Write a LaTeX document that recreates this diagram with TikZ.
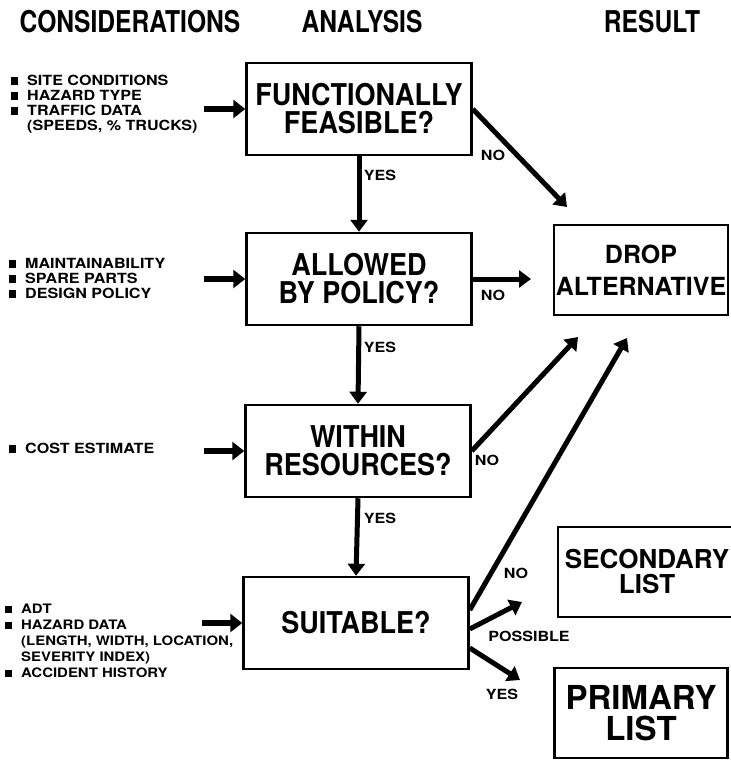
\documentclass[tikz,border=0pt]{standalone}
\usepackage{fontspec}
\usepackage{tikz}
\usetikzlibrary{arrows.meta}
\setmainfont{TeX Gyre Heros}
\newfontfamily\headfont[FakeStretch=0.82]{TeX Gyre Heros}
\newfontfamily\boxfont[FakeStretch=0.9]{TeX Gyre Heros}
\newfontfamily\listfont[FakeStretch=1.15]{TeX Gyre Heros}
\newcommand{\sq}{\rule[0.5pt]{7pt}{7.5pt}\hspace{9pt}}
\newcommand{\nosq}{\hphantom{\sq}}

\tikzset{
  stage/.style={draw, line width=2.5pt, minimum width=225pt, minimum height=92pt, inner sep=0pt, align=center, font=\boxfont\bfseries\fontsize{30}{28}\selectfont},
  outcome/.style={stage, minimum width=174pt, minimum height=90pt},
  heading/.style={font=\headfont\bfseries\fontsize{30}{30}\selectfont},
  items/.style={anchor=west, align=left, inner sep=0pt, font=\listfont\bfseries\fontsize{14}{15}\selectfont},
  tag/.style={inner sep=0pt, font=\listfont\bfseries\fontsize{14}{14}\selectfont},
  flow/.style={line width=5pt, -{Triangle[length=12pt,width=17pt]}},
  feed/.style={line width=6.5pt, -{Triangle[length=12pt,width=18pt]}}
}

\begin{document}
\begin{tikzpicture}[x=1pt, y=-1pt]
\useasboundingbox (0,0) rectangle (731,761);

% column headings
\node[heading] (hcons) at (130,22) {CONSIDERATIONS};
\node[heading] (hana) at (362,22) {ANALYSIS};
\node[heading] (hres) at (652,22) {RESULT};

% analysis steps
\node[stage] (f1) at (359,109) {FUNCTIONALLY\\FEASIBLE?};
\node[stage] (f2) at (359,279) {ALLOWED\\BY POLICY?};
\node[stage] (f3) at (358,451) {WITHIN\\RESOURCES?};
\node[stage] (f4) at (356,623) {SUITABLE?};

% results
\node[outcome, font=\bfseries\fontsize{25}{32}\selectfont] (drop) at (641,270) {DROP\\ALTERNATIVE};
\node[outcome, minimum width=178pt, font=\bfseries\fontsize{26}{25}\selectfont] (sec) at (647,572) {SECONDARY\\LIST};
\node[outcome, minimum width=173pt, font=\bfseries\fontsize{33}{31}\selectfont] (prim) at (641,713) {PRIMARY\\LIST};

% considerations
\node[items] (c1) at (11,104) {\sq SITE CONDITIONS\\\sq HAZARD TYPE\\\sq TRAFFIC DATA\\\nosq(SPEEDS, \% TRUCKS)};
\node[items] (c2) at (9,278) {\sq MAINTAINABILITY\\\sq SPARE PARTS\\\sq DESIGN POLICY};
\node[items] (c3) at (9,448) {\sq COST ESTIMATE};
\node[items, font=\listfont\bfseries\fontsize{13}{16}\selectfont] (c4) at (5,641) {\sq ADT\\\sq HAZARD DATA\\\nosq(LENGTH, WIDTH, LOCATION,\\\nosq SEVERITY INDEX)\\\sq ACCIDENT HISTORY};

\coordinate (in1) at (204,109);
\coordinate (in2) at (204,279);
\coordinate (in3) at (204,451);
\coordinate (in4) at (202,623);
\draw[feed] (in1) -- (f1.west);
\draw[feed] (in2) -- (f2.west);
\draw[feed] (in3) -- (f3.west);
\draw[feed] (in4) -- (f4.west);

% yes path
\draw[flow] (f1.south) -- (f2.north);
\draw[flow] (f2.south) -- (f3.north);
\draw[flow] (f3.south) -- (f4.north);
\node[tag] (y1) at (380,175) {YES};
\node[tag] (y2) at (380,347) {YES};
\node[tag] (y3) at (380,518) {YES};

% no paths
\coordinate (d1) at (567,207);
\coordinate (d2) at (531,279);
\coordinate (d3) at (578,337);
\coordinate (d4) at (627,338);
\draw[flow] (f1.east) -- (d1);
\draw[flow] (f2.east) -- (d2);
\draw[flow] (f3.east) -- (d3);
\draw[flow] ([yshift=13pt]f4.east) -- (d4);
\node[tag] (n1) at (493,155) {NO};
\node[tag] (n2) at (493,295) {NO};
\node[tag] (n3) at (487,460) {NO};
\node[tag] (n4) at (516,573) {NO};

% suitable outcomes
\coordinate (p4) at (522,602);
\coordinate (s4) at (520,680);
\draw[flow] ([yshift=-6pt]f4.east) -- (p4);
\draw[flow] ([yshift=-25pt]f4.east) -- (s4);
\node[tag] (np) at (529,636) {POSSIBLE};
\node[tag] (ny) at (502,694) {YES};
\end{tikzpicture}
\end{document}
